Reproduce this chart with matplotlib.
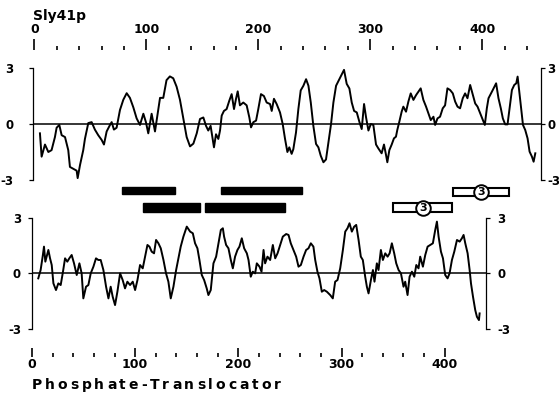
import numpy as np
import matplotlib.pyplot as plt
from matplotlib.patches import Rectangle
from matplotlib.ft2font import FT2Font
from matplotlib.font_manager import FontProperties, findfont

plt.rcParams['font.family'] = 'DejaVu Sans'
plt.rcParams['font.weight'] = 'bold'
plt.rcParams['axes.unicode_minus'] = False

# hydropathy profiles (residue, value)
sly41p = [
    (4.9, -0.5), (6.4, -1.75), (9.4, -1.1), (12.4, -1.5), (15.3, -1.4), (18.3, -0.7),
    (19.8, -0.2), (22.2, -0.05), (24.3, -0.6), (27.3, -0.7), (30.2, -1.4), (31.7, -2.3),
    (34.7, -2.4), (37.7, -2.5), (38.6, -2.9), (40.7, -2.2), (43.6, -1.4), (45.1, -0.8),
    (48.1, 0.05), (51.1, 0.1), (54, -0.3), (57, -0.6), (60, -0.85), (62.1, -1.1),
    (64.5, -0.4), (67.5, -0.05), (69, 0.1), (71, -0.3), (73.4, -0.2), (76.4, 0.75),
    (79.4, 1.3), (82.4, 1.65), (85.3, 1.4), (88.3, 0.9), (91.3, 0.3), (94.3, -0.05),
    (97.3, 0.55), (99.6, 0.1), (101.7, -0.5), (104.7, 0.55), (107.7, -0.4), (109.2, 0.2),
    (112.2, 1.4), (115.1, 1.4), (118, 2.35), (121, 2.55), (124, 2.45), (127, 2.0),
    (130, 1.3), (133, 0.3), (136, -0.7), (139, -1.2), (142, -1.05), (145, -0.5),
    (147.9, 0.27), (150.9, 0.35), (153.3, -0.1), (155.3, -0.35), (157.4, -0.1), (159.2, -0.8),
    (160.4, -1.25), (162.2, -0.55), (164.3, -0.8), (165.8, -0.35), (167.3, 0.45), (169.3, 0.7),
    (171.7, 0.8), (174.1, 1.25), (176.2, 1.6), (178.3, 0.8), (180.1, 1.35), (181.6, 1.75),
    (183.6, 1.0), (186.6, 1.15), (189.6, 1.0), (192, 0.35), (193.5, -0.18), (195.6, 0.1),
    (198, 0.18), (200, 0.8), (202.4, 1.6), (205, 1.5), (207.5, 1.15), (210.5, 1.07),
    (212, 0.7), (214, 1.35), (216.4, 1.07), (219.4, 0.62), (221.8, 0.0), (223.9, -0.8),
    (226, -1.5), (227.7, -1.25), (229.8, -1.6), (231.3, -1.35), (233.7, -0.45), (235.8, 0.8),
    (237.9, 1.8), (240.3, 2.05), (242.7, 2.4), (244.8, 2.05), (246.9, 1.15), (249.2, -0.1),
    (251.6, -1.07), (253.7, -1.25), (255.8, -1.7), (258.2, -2.05), (260.5, -1.9), (262.6, -1.0),
    (265, 0.0), (267.1, 1.15), (269.5, 2.05), (272.4, 2.4), (275.4, 2.75), (276.6, 2.9),
    (279, 2.15), (281.4, 1.9), (283.5, 1.15), (285.6, 0.7), (288, 0.62), (290.4, 0.1),
    (292.4, -0.27), (294.5, 1.07), (296.3, 0.35), (298.4, -0.35), (300.5, 0.0),
    (302.8, -0.05), (305.2, -1.1), (307.2, -1.3), (310.2, -1.57), (312.3, -1.1), (314.1, -1.65),
    (315.3, -2.05), (317.1, -1.4), (319.2, -1.1), (321.2, -0.77), (323, -0.68), (324.2, -0.32),
    (326, 0.12), (328.1, 0.66), (329.6, 0.93), (332, 0.66), (334.1, 1.2), (336.2, 1.64),
    (338.6, 1.29), (341, 1.55), (343.1, 1.73), (345.1, 1.91), (347.5, 1.29), (349.9, 0.93),
    (352, 0.57), (354.1, 0.21), (356.5, 0.39), (358, -0.05), (360.1, 0.3), (362.4, 0.39),
    (364.8, 0.84), (366.9, 1.0), (369, 1.91), (371.4, 1.82), (373.8, 1.64), (375.9, 1.2),
    (378, 0.93), (380.3, 0.84), (382.7, 1.38), (384.8, 1.64), (386.9, 1.38), (389.3, 2.09),
    (391.7, 1.55), (393.8, 1.1), (395.9, 0.93), (398.3, 0.57), (400.6, 0.21), (402.4, -0.05),
    (404.2, 0.84), (405.7, 1.38), (407.2, 1.55), (409.5, 1.82), (412.5, 2.18), (414.6, 1.38),
    (416.7, 0.84), (418.5, 0.3), (420.6, -0.02), (422.7, -0.02), (424.5, 0.84), (426.6, 1.82),
    (428.7, 2.09), (430.5, 2.18), (431.7, 2.54), (433.5, 1.55), (434.7, 0.84), (436.5, -0.05),
    (438.5, -0.32), (440.6, -0.77), (442.4, -1.48), (444.5, -1.75), (446, -2.02), (447.5, -1.57),
]

translocator = [
    (6.5, -0.27), (8.6, 0.18), (10.4, 0.9), (11.6, 1.44), (12.8, 0.63), (14, 0.9),
    (15.5, 1.26), (17, 0.81), (18.5, 0.45), (20, -0.54), (22.3, -0.9), (24.4, -0.54),
    (26.5, -0.63), (28.3, 0.0), (30.4, 0.81), (32.4, 0.63), (34.2, 0.81), (36.3, 0.99),
    (38.4, 0.54), (40.8, -0.09), (43.2, 0.54), (45.2, 0.0), (46.7, -1.35), (49.1, -0.72),
    (51.2, -0.63), (53.3, 0.0), (55.7, 0.36), (58, 0.81), (60.1, 0.72), (62.2, 0.72),
    (64.6, 0.18), (67, -0.72), (69.1, -1.35), (71.1, -0.72), (72.9, -1.26), (75, -1.71),
    (77.1, -0.99), (79.5, 0.0), (81.8, -0.36), (83.9, -0.81), (86, -0.45), (88.4, -0.63),
    (90.8, -0.45), (92.9, -0.9), (95, -0.36), (97.3, 0.45), (99.7, 0.27), (101.8, 0.9),
    (103.9, 1.53), (105.7, 1.44), (107.7, 1.17), (109.8, 1.08), (111.6, 1.8), (113.7, 1.62),
    (115.8, 1.35), (118.2, 0.72), (120.5, 0.0), (122.6, -0.45), (124.7, -1.35), (127.1, -0.72),
    (129.5, 0.18), (131.5, 0.81), (133.6, 1.44),
    (136, 1.98), (139, 2.52), (142, 2.25), (144.4, 2.16), (146.4, 1.62), (148.5, 1.35),
    (150.3, 0.72), (152.4, -0.09), (154.5, -0.36), (156.8, -0.81), (158.3, -1.17), (160.4, -0.9),
    (162.8, 0.54), (165.2, 0.9), (167.3, 1.62), (169.4, 2.34), (171.2, 2.43), (172.3, 1.98),
    (174.1, 1.53), (176.2, 1.35), (178.3, 0.72), (180.1, 0.27), (182.1, 0.9), (184.2, 1.26),
    (186, 1.44), (188.1, 1.89), (190.2, 1.35), (192.6, 1.08), (194.1, 0.72), (196.1, -0.18),
    (197.9, 0.09), (200, 0.0), (201.5, 0.54), (203.9, 0.36), (205.7, 0.09), (207.5, 1.26),
    (208.9, 0.54), (211, 0.9), (213.4, 0.72), (215.8, 1.53), (217.9, 0.81), (220, 1.08),
    (222.3, 1.53), (224.7, 1.98), (227.7, 2.12), (229.8, 2.07), (231.8, 1.62), (234.2, 1.26),
    (236.6, 0.9), (238.7, 0.36), (240.8, 0.45), (243.2, 0.9), (245.5, 1.26), (247.6, 1.35),
    (249.7, 1.62), (252, 1.44), (253.6, 0.72), (255.6, 0.09), (257.4, -0.27), (259.5, -0.99),
    (261.6, -0.9), (264, -0.99),
    (267, -1.17), (269.3, -1.35), (271.4, -0.45), (273.5, -0.36), (275.9, 0.27), (278.3, 1.26),
    (280.4, 2.25), (282.4, 2.43), (284.2, 2.7), (286.3, 2.25), (288.4, 2.52), (290.2, 2.61),
    (292.3, 1.8), (294.3, 0.9), (296.1, 0.72), (298.2, -0.18), (299.7, -0.72), (301.2, -1.08),
    (303.3, -0.36), (305.1, 0.18), (306.5, -0.45), (308.6, 0.54), (310.1, 0.18), (312.2, 1.26),
    (314, 0.72), (316.1, 1.08), (318.2, 0.9), (320, 1.08), (322, 1.62), (324.1, 1.08),
    (325.9, 0.54), (328, 0.18), (330.1, 0.0), (332.4, -0.72), (333.9, -0.45), (336, -1.17),
    (337.8, -0.18), (339.9, 0.09), (342, -0.18), (343.8, 0.45), (345.8, 0.27), (347.3, 0.9),
    (349.7, 0.36), (351.8, 0.99), (353.9, 1.44), (356.3, 1.53), (358.6, 1.62), (360.7, 2.34),
    (362.2, 2.79), (363.7, 1.98), (365.8, 1.17), (367.6, 0.81), (369.6, -0.09), (371.7, -0.27),
    (373.5, 0.0), (375.6, 0.72), (377.7, 1.17), (380.1, 1.8), (382.5, 1.71), (384.5, 1.89),
    (386, 2.07), (387.5, 1.62), (389.6, 1.08), (391.4, 0.18), (392.6, -0.54), (394.4, -1.26),
    (396.4, -1.98), (397.9, -2.34), (399.7, -2.52), (400.3, -2.16),
]

# aligned segments (start, end residue)
sly_bars = [(78, 126), (167, 239)]
pt_bars = [(100, 151), (155, 227)]
sly_box = (374, 424)
pt_box = (323, 376)
box_label = '3'

W, H = 559, 396
fig = plt.figure(figsize=(W / 100, H / 100), dpi=100)

ax1 = fig.add_axes([33 / W, 1 - 180 / H, 508 / W, 112 / H])
ax2 = fig.add_axes([32 / W, 1 - 329 / H, 454 / W, 111.3 / H])
ax1.set_xlim(-1.3, 452.6)
ax2.set_xlim(0.9, 406)


def profile_axes(ax, data, lpad, rpad):
    x, y = zip(*data)
    ax.plot(x, y, color='black', lw=1.4, solid_joinstyle='round')
    ax.axhline(0, color='black', lw=1.1)
    ax.set_ylim(-3, 3)
    ax.set_xticks([])
    ax.set_yticks([-3, 0, 3], ['-3', '0', '3'])
    for s in ['top', 'bottom']:
        ax.spines[s].set_visible(False)
    ax.spines['left'].set_linewidth(0.9)
    ax.spines['right'].set_linewidth(0.9)
    ax.tick_params(axis='y', length=3, width=0.9, labelsize=8.5, pad=lpad)
    axr = ax.twinx()
    axr.set_ylim(-3, 3)
    axr.set_yticks([-3, 0, 3], ['-3', '0', '3'])
    for s in ['top', 'bottom', 'left', 'right']:
        axr.spines[s].set_visible(False)
    axr.tick_params(axis='y', length=3, width=0.9, labelsize=8.5, pad=rpad)


profile_axes(ax1, sly41p, 11, 1.5)
profile_axes(ax2, translocator, 5, 5)


def scale_axes(ypix, ax, side, length):
    pos = ax.get_position()
    sa = fig.add_axes([pos.x0, 1 - ypix / H, pos.width, 0.0])
    sa.set_xlim(ax.get_xlim())
    for s in sa.spines.values():
        s.set_visible(False)
    sa.yaxis.set_visible(False)
    sa.patch.set_visible(False)
    sa.set_xticks(np.arange(0, 401, 100))
    sa.set_xticks(np.arange(0, 441, 20), minor=True)
    sa.xaxis.set_ticks_position(side)
    direction = 'out' if side == 'top' else 'in'
    sa.tick_params(axis='x', which='major', direction=direction, length=length,
                   width=1.2, labelsize=9, pad=2)
    sa.tick_params(axis='x', which='minor', direction=direction, length=3, width=1.2)
    return sa


sc1 = scale_axes(50, ax1, 'top', 8)
sc2 = scale_axes(357, ax2, 'bottom', 6.5)
sc2.set_xticks(np.arange(0, 401, 20), minor=True)
sc2.tick_params(axis='x', which='major', pad=1)

# alignment bars between the two profiles
for s, e in sly_bars:
    ax1.add_patch(Rectangle((s, -3.75), e - s, 0.38, color='black', clip_on=False))
for s, e in pt_bars:
    ax2.add_patch(Rectangle((s, 3.30), e - s, 0.49, color='black', clip_on=False))


def tm_box(ax, span, y0, h):
    s, e = span
    ax.add_patch(Rectangle((s, y0), e - s, h, facecolor='white', edgecolor='black',
                           lw=1.5, clip_on=False, zorder=3))
    c = (s + e) / 2
    ax.plot([c], [y0 + h / 2], marker='o', ms=10.5, mfc='white', mec='black',
            mew=1.4, clip_on=False, zorder=4)
    ax.text(c, y0 + h / 2, box_label, ha='center', va='center', fontsize=8,
            fontweight='bold', zorder=5, clip_on=False)


tm_box(ax1, sly_box, -3.84, 0.41)
tm_box(ax2, pt_box, 3.32, 0.45)

fig.text(33 / W, 1 - 20 / H, 'Sly41p', fontsize=10, fontweight='bold', va='baseline')


def tracked_text(x_px, y_px, s, size, gap):
    fp = FontProperties(family='DejaVu Sans', weight='bold', size=size)
    font = FT2Font(findfont(fp))
    font.set_size(size, 100)
    x = x_px
    for ch in s:
        fig.text(x / W, 1 - y_px / H, ch, fontproperties=fp, va='baseline')
        g = font.load_char(ord(ch))
        x += g.linearHoriAdvance / 65536 + gap


tracked_text(32, 389, 'Phosphate-Translocator', 10, 2.9)

fig.savefig('out.png', dpi=100)
